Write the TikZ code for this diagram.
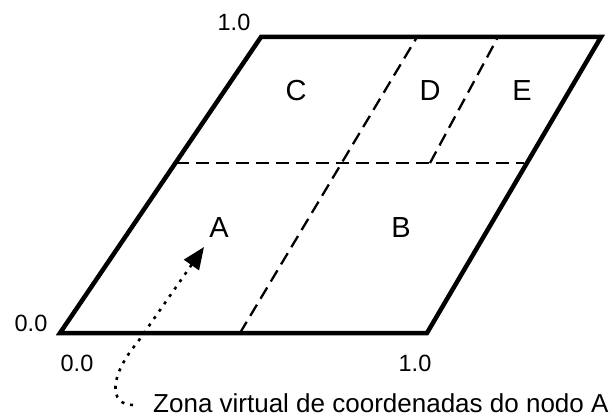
\documentclass[tikz,border=0pt]{standalone}
\usepackage{fontspec}
\setmainfont{Liberation Sans}
\usetikzlibrary{arrows.meta}
\begin{document}
\begin{tikzpicture}[x=1pt,y=-1pt,
  border/.style={line width=4.5pt,line join=miter},
  split/.style={line width=2.3pt,dash pattern=on 13pt off 7pt},
  lbl/.style={inner sep=0pt,font=\fontsize{23.5}{23.5}\selectfont},
  note/.style={inner sep=0pt,font=\fontsize{26}{26}\selectfont},
  zone/.style={inner sep=0pt,font=\fontsize{29}{29}\selectfont},
  hint/.style={line width=2.6pt,dash pattern=on 3pt off 6pt,-{Triangle[length=22pt,width=18pt]}}]
\useasboundingbox (0,0) rectangle (615,417);
% corners
\coordinate (bl) at (60,333);
\coordinate (br) at (427,333);
\coordinate (tr) at (601,37);
\coordinate (tl) at (261,37);
\draw[border] (bl) -- (br) -- (tr) -- (tl) -- cycle;
% split lines
\coordinate (hl) at (176,163);
\coordinate (hr) at (524,163);
\coordinate (v1b) at (240,333);
\coordinate (v1t) at (417,37);
\coordinate (v2b) at (430,163);
\coordinate (v2t) at (498,37);
\draw[split] (hl) -- (hr);
\draw[split] (v1b) -- (v1t);
\draw[split] (v2b) -- (v2t);
% zone labels
\node[zone] (C) at (296,91) {C};
\node[zone] (D) at (430,91) {D};
\node[zone] (E) at (522,91) {E};
\node[zone] (A) at (219,228) {A};
\node[zone] (B) at (401,228) {B};
% coordinate labels
\node[lbl] (t10) at (234,22) {1.0};
\node[lbl] (l00) at (31,323) {0.0};
\node[lbl] (b00) at (77,363) {0.0};
\node[lbl] (b10) at (415,363) {1.0};
\node[note,anchor=base west] (zona) at (153,412) {Zona virtual de coordenadas do nodo A};
% arrow
\coordinate (zs) at (133,405);
\coordinate (tip) at (204,247);
\draw[hint] (zs) .. controls (108,405) and (110,375) .. (137,343) -- (tip);
\end{tikzpicture}
\end{document}
